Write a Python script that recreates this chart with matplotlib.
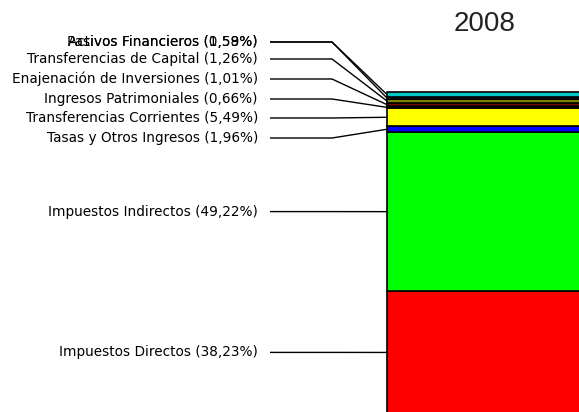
import matplotlib
matplotlib.use('Agg')
import matplotlib.pyplot as plt

# ---- data ----
categories = ['Impuestos Directos', 'Impuestos Indirectos', 'Tasas y Otros Ingresos',
              'Transferencias Corrientes', 'Ingresos Patrimoniales',
              'Enajenación de Inversiones', 'Transferencias de Capital',
              'Activos Financieros', 'Pasivos Financieros']
values = [38.23, 49.22, 1.96, 5.49, 0.66, 1.01, 1.26, 0.58, 1.59]
year = '2008'

# ---- style / layout ----
colors = ['#FF0000', '#00FF00', '#0000FF', '#FFFF00', '#202020',
          '#800000', '#808000', '#202020', '#00C8C8']
label_rows_px = [352.4, 211.6, 138, 118, 99, 79, 59, 42, 42]

W, H = 579, 412
ppp = 3.22        # pixels per percent
base_px = 414     # pixel row of the 0% baseline

fig = plt.figure(figsize=(W / 100, H / 100), dpi=100)
ax = fig.add_axes([0, 0, 1, 1])
ax.set_xlim(0, W)
ax.set_ylim((base_px - H) / ppp, base_px / ppp)
ax.axis('off')


def px2d(ypx):
    return (base_px - ypx) / ppp


bar_x, bar_w = 485, 196
bar_left = bar_x - bar_w / 2
bottom = 0.0
centers = []
for v, c in zip(values, colors):
    ax.bar(bar_x, v, width=bar_w, bottom=bottom, color=c,
           edgecolor='black', linewidth=1.2)
    centers.append(bottom + v / 2)
    bottom += v

for name, v, row, cy in zip(categories, values, label_rows_px, centers):
    y = px2d(row)
    txt = f"{name} ({v:.2f}%)".replace('.', ',')
    ax.text(258, y, txt, ha='right', va='center', fontsize=9.8,
            family='DejaVu Sans', color='black')
    ax.plot([270, 332, bar_left], [y, y, cy], color='black', lw=1.0,
            solid_capstyle='butt')

ax.text(bar_x, px2d(24), year, ha='center', va='center', fontsize=20,
        family='Liberation Sans', color='#222222')

fig.savefig('out.png', dpi=100)
